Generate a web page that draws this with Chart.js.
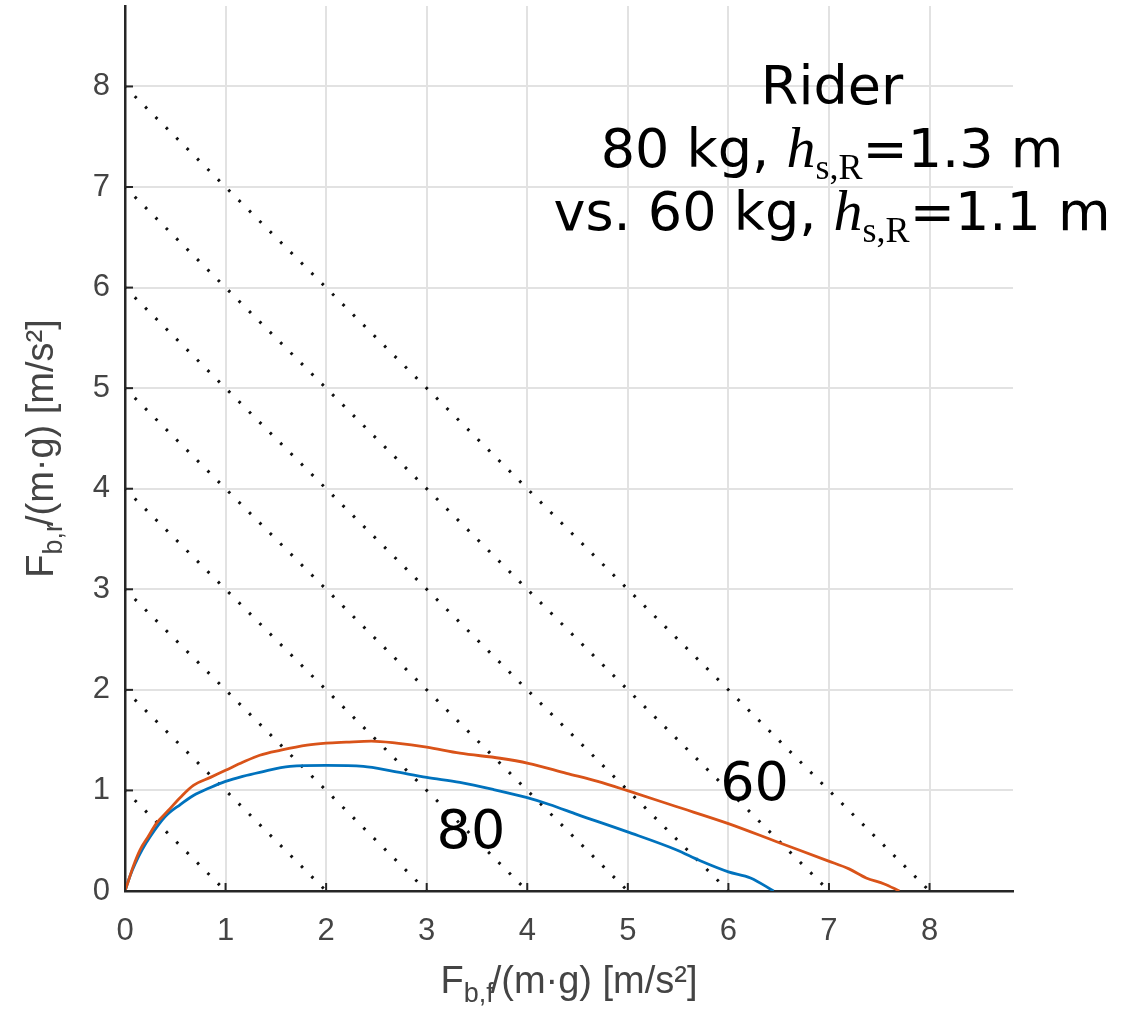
<!DOCTYPE html>
<html>
<head>
<meta charset="utf-8">
<script src="https://cdn.jsdelivr.net/npm/chart.js"></script>
<style>
  html, body { margin: 0; padding: 0; background: #fff; }
  #wrap { width: 1136px; height: 1012px; position: relative; }
</style>
</head>
<body>
<div id="wrap"><canvas id="brakeChart"></canvas></div>
<script>
// 60 kg rider, h_s,R = 1.1 m (orange)
const rider60X = [0, 0.05, 0.08, 0.15, 0.23, 0.31, 0.43, 0.55, 0.68, 0.85, 1.0, 1.17, 1.34, 1.55, 1.81, 2.0, 2.2, 2.45, 2.7, 3.0, 3.33, 3.73, 4.01, 4.39, 4.7, 4.99, 5.48, 6.0, 6.48, 6.99, 7.2, 7.37, 7.55, 7.7];
const rider60Y = [0, 0.15, 0.24, 0.41, 0.54, 0.67, 0.80, 0.93, 1.05, 1.13, 1.20, 1.28, 1.35, 1.40, 1.45, 1.47, 1.48, 1.49, 1.47, 1.43, 1.37, 1.32, 1.27, 1.17, 1.09, 1.00, 0.84, 0.67, 0.49, 0.30, 0.22, 0.13, 0.07, 0];
// 80 kg rider, h_s,R = 1.3 m (blue)
const rider80X = [0, 0.05, 0.1, 0.17, 0.25, 0.4, 0.55, 0.68, 0.85, 1.0, 1.17, 1.34, 1.64, 2.0, 2.37, 2.67, 3.0, 3.33, 3.66, 3.99, 4.22, 4.5, 4.99, 5.48, 5.72, 6.0, 6.22, 6.45];
const rider80Y = [0, 0.15, 0.27, 0.41, 0.54, 0.74, 0.86, 0.95, 1.03, 1.09, 1.14, 1.18, 1.24, 1.25, 1.24, 1.19, 1.13, 1.08, 1.01, 0.93, 0.86, 0.76, 0.59, 0.41, 0.30, 0.19, 0.13, 0];
// dotted lines of constant total deceleration  Fb,f + Fb,r = k
const totalDecel = [1, 2, 3, 4, 5, 6, 7, 8];
const tickValues = [0, 1, 2, 3, 4, 5, 6, 7, 8];

const orange = "#D95319";
const blue = "#0072BD";
const axisColor = "#262626";

function toPoints(xs, ys) {
    return xs.map((x, i) => ({ x: x, y: ys[i] }));
}

// draw a row of text pieces (for sub/superscripts) centred on cx
function drawRuns(ctx, runs, cx, baseline) {
    let total = 0;
    runs.forEach(r => {
        ctx.font = r.font;
        r.w = ctx.measureText(r.text).width + (r.kern || 0);
        total += r.w;
    });
    let x = cx - total / 2;
    runs.forEach(r => {
        ctx.font = r.font;
        ctx.fillText(r.text, x, baseline + (r.dy || 0));
        x += r.w;
    });
}

const tickLabelFont = "Liberation Sans";

const decorPlugin = {
    id: "decor",
    afterDraw(chart) {
        const ctx = chart.ctx;
        const xs = chart.scales.x, ys = chart.scales.y;
        const area = chart.chartArea;
        ctx.save();

        // inward tick marks
        ctx.strokeStyle = axisColor;
        ctx.lineWidth = 2;
        tickValues.forEach(v => {
            const px = xs.getPixelForValue(v);
            ctx.beginPath(); ctx.moveTo(px, area.bottom); ctx.lineTo(px, area.bottom - 8); ctx.stroke();
            const py = ys.getPixelForValue(v);
            ctx.beginPath(); ctx.moveTo(area.left, py); ctx.lineTo(area.left + 8, py); ctx.stroke();
        });

        ctx.textAlign = "left";
        ctx.textBaseline = "alphabetic";

        // axis titles
        ctx.fillStyle = "#444";
        const sans = '38px "Liberation Sans"';
        const sub = '27px "Liberation Sans"';
        drawRuns(ctx, [
            { text: "F", font: sans },
            { text: "b,f", font: sub, dy: 9, kern: -3 },
            { text: "/(m\u00b7g) [m/s\u00b2]", font: sans }
        ], (area.left + area.right) / 2, area.bottom + 102);

        ctx.save();
        ctx.translate(53, (area.top + area.bottom) / 2);
        ctx.rotate(-Math.PI / 2);
        drawRuns(ctx, [
            { text: "F", font: sans },
            { text: "b,r", font: sub, dy: 9, kern: -3 },
            { text: "/(m\u00b7g) [m/s\u00b2]", font: sans }
        ], 0, 0);
        ctx.restore();

        // annotations
        ctx.fillStyle = "#000";
        const big = '54px "DejaVu Sans"';
        const hFont = 'italic 58px "Liberation Serif"';
        const hSub = '36px "Liberation Serif"';
        const cx = xs.getPixelForValue(7.03);
        drawRuns(ctx, [{ text: "Rider", font: big }], cx, ys.getPixelForValue(7.83));
        drawRuns(ctx, [
            { text: "80 kg, ", font: big },
            { text: "h", font: hFont },
            { text: "s,R", font: hSub, dy: 12 },
            { text: "=1.3 m", font: big }
        ], cx, ys.getPixelForValue(7.2));
        drawRuns(ctx, [
            { text: "vs. 60 kg, ", font: big },
            { text: "h", font: hFont },
            { text: "s,R", font: hSub, dy: 12 },
            { text: "=1.1 m", font: big }
        ], cx, ys.getPixelForValue(6.57));

        drawRuns(ctx, [{ text: "80", font: big }], xs.getPixelForValue(3.44), ys.getPixelForValue(0.43));
        drawRuns(ctx, [{ text: "60", font: big }], xs.getPixelForValue(6.26), ys.getPixelForValue(0.905));

        ctx.restore();
    }
};

const datasets = [
    {
        label: "60 kg",
        data: toPoints(rider60X, rider60Y),
        borderColor: orange,
        borderWidth: 2.8,
        showLine: true,
        pointRadius: 0,
        cubicInterpolationMode: "monotone"
    },
    {
        label: "80 kg",
        data: toPoints(rider80X, rider80Y),
        borderColor: blue,
        borderWidth: 2.8,
        showLine: true,
        pointRadius: 0,
        cubicInterpolationMode: "monotone"
    }
];
totalDecel.forEach(k => {
    datasets.push({
        label: "sum " + k,
        data: [{ x: 0, y: k }, { x: k, y: 0 }],
        borderColor: "#111",
        borderWidth: 3,
        borderDash: [2.6, 12.1],
        borderDashOffset: 0.9,
        showLine: true,
        pointRadius: 0
    });
});

new Chart(document.getElementById("brakeChart"), {
    type: "scatter",
    data: { datasets: datasets },
    options: {
        responsive: true,
        maintainAspectRatio: false,
        animation: false,
        layout: { padding: { top: 6, right: 123, left: 0, bottom: 0 } },
        plugins: {
            legend: { display: false },
            tooltip: { enabled: false }
        },
        scales: {
            x: {
                type: "linear",
                min: 0,
                max: 8.83,
                afterFit(scale) {
                    scale.height = 121;
                    scale.paddingLeft = 0;
                    scale.paddingRight = 0;
                },
                grid: { color: "#e2e2e2", lineWidth: 2, drawTicks: false },
                border: { color: axisColor, width: 2.5 },
                ticks: {
                    stepSize: 1,
                    includeBounds: false,
                    padding: 22,
                    color: "#444",
                    font: { family: tickLabelFont, size: 31 },
                    maxRotation: 0
                }
            },
            y: {
                type: "linear",
                min: 0,
                max: 8.8,
                afterFit(scale) {
                    scale.width = 125;
                    scale.paddingTop = 0;
                    scale.paddingBottom = 0;
                },
                grid: { color: "#e2e2e2", lineWidth: 2, drawTicks: false },
                border: { color: axisColor, width: 2.5 },
                ticks: {
                    stepSize: 1,
                    includeBounds: false,
                    padding: 15,
                    color: "#444",
                    font: { family: tickLabelFont, size: 31 }
                }
            }
        }
    },
    plugins: [decorPlugin]
});
</script>
</body>
</html>
